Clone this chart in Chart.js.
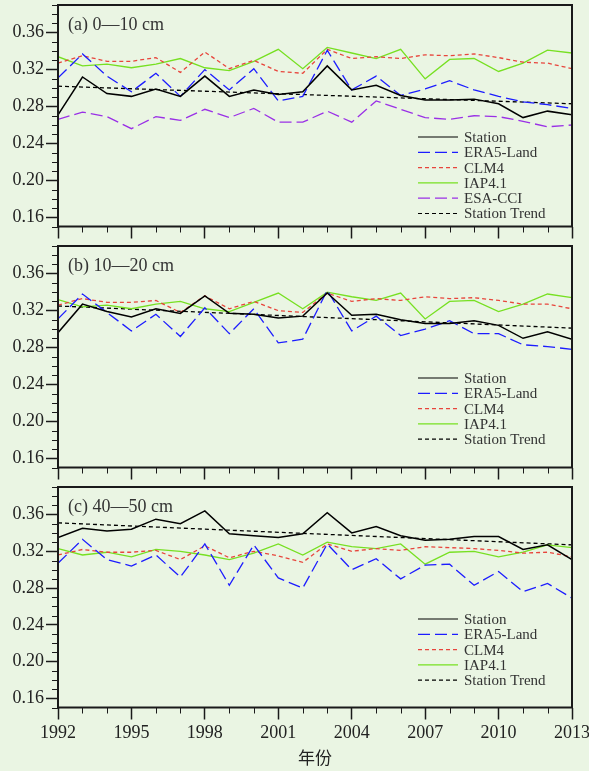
<!DOCTYPE html>
<html>
<head>
<meta charset="utf-8">
<script src="https://cdn.jsdelivr.net/npm/chart.js@4"></script>
<style>
  body { margin: 0; background: #eaf5e3; }
  #wrap { position: relative; width: 589px; height: 771px; background: #eaf5e3; }
  .panel { position: absolute; left: 0; width: 589px; }
</style>
</head>
<body>
<div id="wrap">
  <div class="panel" style="top:0px"><canvas id="pa" width="589" height="241"></canvas></div>
  <div class="panel" style="top:241px"><canvas id="pb" width="589" height="241"></canvas></div>
  <div class="panel" style="top:482px"><canvas id="pc" width="589" height="289"></canvas></div>
</div>
<script>
// years + tick positions
const years = [1992,1993,1994,1995,1996,1997,1998,1999,2000,2001,2002,2003,2004,2005,2006,2007,2008,2009,2010,2011,2012,2013];
const yearLabels = [1992,1995,1998,2001,2004,2007,2010,2013];
const trendYears = [1992, 2013];
const yLabels = [0.16,0.20,0.24,0.28,0.32,0.36];
const yMinorTicks = [0.15,0.16,0.17,0.18,0.19,0.20,0.21,0.22,0.23,0.24,0.25,0.26,0.27,0.28,0.29,0.30,0.31,0.32,0.33,0.34,0.35,0.36,0.37,0.38,0.39];

// (a) 0-10 cm
const stationA = [0.271,0.312,0.294,0.291,0.299,0.291,0.313,0.291,0.298,0.293,0.296,0.324,0.298,0.303,0.292,0.287,0.287,0.288,0.283,0.268,0.275,0.271];
const era5A    = [0.311,0.337,0.313,0.296,0.316,0.291,0.320,0.298,0.321,0.286,0.291,0.341,0.298,0.313,0.292,0.299,0.308,0.298,0.291,0.285,0.282,0.278];
const clm4A    = [0.327,0.335,0.329,0.329,0.333,0.317,0.339,0.321,0.330,0.318,0.316,0.342,0.332,0.334,0.332,0.336,0.335,0.337,0.333,0.328,0.327,0.321];
const iapA     = [0.334,0.324,0.326,0.322,0.326,0.332,0.322,0.319,0.329,0.342,0.321,0.344,0.338,0.332,0.342,0.310,0.331,0.332,0.318,0.327,0.341,0.338];
const esaA     = [0.266,0.274,0.269,0.256,0.269,0.265,0.277,0.268,0.278,0.263,0.263,0.275,0.263,0.286,0.277,0.268,0.266,0.270,0.269,0.264,0.258,0.260];
const trendA   = [0.302, 0.283];

// (b) 10-20 cm
const stationB = [0.296,0.327,0.319,0.313,0.322,0.317,0.336,0.317,0.316,0.312,0.314,0.339,0.315,0.316,0.310,0.306,0.306,0.309,0.304,0.290,0.297,0.289];
const era5B    = [0.311,0.338,0.318,0.298,0.316,0.292,0.323,0.295,0.322,0.285,0.289,0.342,0.298,0.314,0.293,0.300,0.309,0.295,0.295,0.283,0.281,0.278];
const clm4B    = [0.326,0.333,0.329,0.329,0.331,0.318,0.336,0.322,0.330,0.320,0.318,0.339,0.330,0.333,0.331,0.335,0.333,0.334,0.331,0.327,0.327,0.322];
const iapB     = [0.332,0.324,0.326,0.322,0.327,0.330,0.322,0.319,0.329,0.339,0.322,0.340,0.335,0.331,0.339,0.311,0.330,0.331,0.319,0.327,0.338,0.334];
const trendB   = [0.325, 0.301];

// (c) 40-50 cm
const stationC = [0.335,0.345,0.342,0.344,0.355,0.350,0.364,0.339,0.337,0.335,0.339,0.362,0.340,0.347,0.337,0.332,0.333,0.336,0.336,0.322,0.327,0.311];
const era5C    = [0.307,0.333,0.311,0.304,0.316,0.292,0.328,0.283,0.327,0.291,0.280,0.328,0.300,0.312,0.290,0.305,0.306,0.283,0.298,0.276,0.285,0.269];
const clm4C    = [0.316,0.322,0.319,0.319,0.321,0.311,0.326,0.313,0.320,0.315,0.308,0.328,0.320,0.323,0.321,0.325,0.324,0.323,0.321,0.318,0.319,0.314];
const iapC     = [0.323,0.316,0.319,0.314,0.322,0.320,0.316,0.311,0.318,0.328,0.316,0.330,0.325,0.323,0.328,0.306,0.319,0.320,0.314,0.319,0.327,0.324];
const trendC   = [0.351, 0.327];

const SERIF = "'Liberation Serif', 'Times New Roman', serif";
const INK = '#1a1a1a';

function pts(xs, ys) {
    return xs.map((x, i) => ({ x: x, y: ys[i] }));
}

function line(label, xs, ys, color, dash, width) {
    return {
        label: label,
        data: pts(xs, ys),
        borderColor: color,
        backgroundColor: color,
        borderWidth: width || 1.3,
        borderDash: dash || [],
        pointRadius: 0,
        tension: 0,
        fill: false
    };
}

// frame, minor ticks, panel title and in-plot legend
const framePlugin = {
    id: 'frame',
    afterDraw(chart, args, opts) {
        const ctx = chart.ctx;
        const a = chart.chartArea;
        const xs = chart.scales.x, ys = chart.scales.y;
        ctx.save();

        ctx.strokeStyle = INK;
        ctx.lineWidth = 1;
        ctx.beginPath();
        yMinorTicks.forEach(v => {
            if (yLabels.some(m => Math.abs(m - v) < 1e-6)) return;
            const py = Math.round(ys.getPixelForValue(v)) + 0.5;
            ctx.moveTo(a.left - 6, py); ctx.lineTo(a.left, py);
        });
        years.forEach(yr => {
            if (yearLabels.includes(yr)) return;
            const px = Math.round(xs.getPixelForValue(yr)) + 0.5;
            ctx.moveTo(px, a.bottom); ctx.lineTo(px, a.bottom + 6);
        });
        ctx.stroke();

        ctx.lineWidth = 2;
        ctx.strokeRect(a.left, a.top, a.right - a.left, a.bottom - a.top);

        ctx.fillStyle = '#333';
        ctx.font = '18px ' + SERIF;
        ctx.textBaseline = 'middle';
        ctx.textAlign = 'left';
        ctx.fillText(opts.title, a.left + 10, a.top + 20);

        // legend
        ctx.font = '15px ' + SERIF;
        let ly = a.top + 132;
        chart.data.datasets.forEach(ds => {
            ctx.strokeStyle = ds.borderColor;
            ctx.lineWidth = 1.2;
            ctx.setLineDash(ds.borderDash);
            ctx.beginPath();
            ctx.moveTo(418, ly); ctx.lineTo(458, ly);
            ctx.stroke();
            ctx.setLineDash([]);
            ctx.fillStyle = '#333';
            ctx.fillText(ds.label, 464, ly + 1);
            ly += 15.3;
        });
        ctx.restore();
    }
};

function makePanel(id, title, datasets, bottomPanel) {
    const canvas = document.getElementById(id);
    const axisHeight = bottomPanel ? 63.5 : 14.5;
    return new Chart(canvas, {
        type: 'line',
        data: { datasets: datasets },
        options: {
            responsive: false,
            animation: false,
            layout: { padding: { top: 5, right: 17, left: 0, bottom: 0 } },
            plugins: {
                legend: { display: false },
                tooltip: { enabled: false },
                frame: { title: title }
            },
            scales: {
                x: {
                    type: 'linear',
                    min: 1992, max: 2013,
                    afterBuildTicks: s => { s.ticks = yearLabels.map(v => ({ value: v })); },
                    afterFit: s => { s.height = axisHeight; s.paddingLeft = 0; s.paddingRight = 0; },
                    border: { display: false },
                    grid: { drawOnChartArea: false, drawTicks: true, tickLength: 12, tickWidth: 1.5, tickColor: INK },
                    ticks: {
                        display: bottomPanel,
                        padding: 3,
                        maxRotation: 0,
                        color: '#222',
                        font: { family: SERIF, size: 18 },
                        callback: v => String(v)
                    },
                    title: {
                        display: bottomPanel,
                        text: '年份',
                        color: '#222',
                        font: { family: "'Noto Sans CJK SC', sans-serif", size: 17 },
                        padding: { top: 0, bottom: 3 }
                    }
                },
                y: {
                    min: 0.15, max: 0.39,
                    afterBuildTicks: s => { s.ticks = yLabels.map(v => ({ value: v })); },
                    afterFit: s => { s.width = 58; s.paddingTop = 0; s.paddingBottom = 0; },
                    border: { display: false },
                    grid: { drawOnChartArea: false, drawTicks: true, tickLength: 12, tickWidth: 1.5, tickColor: INK },
                    ticks: {
                        padding: 2,
                        color: '#222',
                        font: { family: SERIF, size: 18 },
                        callback: v => v.toFixed(2)
                    }
                }
            }
        },
        plugins: [framePlugin]
    });
}

const BLACK = '#000000', BLUE = '#1c1cff', RED = '#e8453c', GREEN = '#77e022', PURPLE = '#9a30e6';
const LONG = [12, 5], SHORT = [4, 3];

makePanel('pa', '(a) 0—10 cm', [
    line('Station', years, stationA, BLACK, [], 1.5),
    line('ERA5-Land', years, era5A, BLUE, LONG),
    line('CLM4', years, clm4A, RED, SHORT),
    line('IAP4.1', years, iapA, GREEN, []),
    line('ESA-CCI', years, esaA, PURPLE, LONG),
    line('Station Trend', trendYears, trendA, BLACK, SHORT)
], false);

makePanel('pb', '(b) 10—20 cm', [
    line('Station', years, stationB, BLACK, [], 1.5),
    line('ERA5-Land', years, era5B, BLUE, LONG),
    line('CLM4', years, clm4B, RED, SHORT),
    line('IAP4.1', years, iapB, GREEN, []),
    line('Station Trend', trendYears, trendB, BLACK, SHORT)
], false);

makePanel('pc', '(c) 40—50 cm', [
    line('Station', years, stationC, BLACK, [], 1.5),
    line('ERA5-Land', years, era5C, BLUE, LONG),
    line('CLM4', years, clm4C, RED, SHORT),
    line('IAP4.1', years, iapC, GREEN, []),
    line('Station Trend', trendYears, trendC, BLACK, SHORT)
], true);
</script>
</body>
</html>
